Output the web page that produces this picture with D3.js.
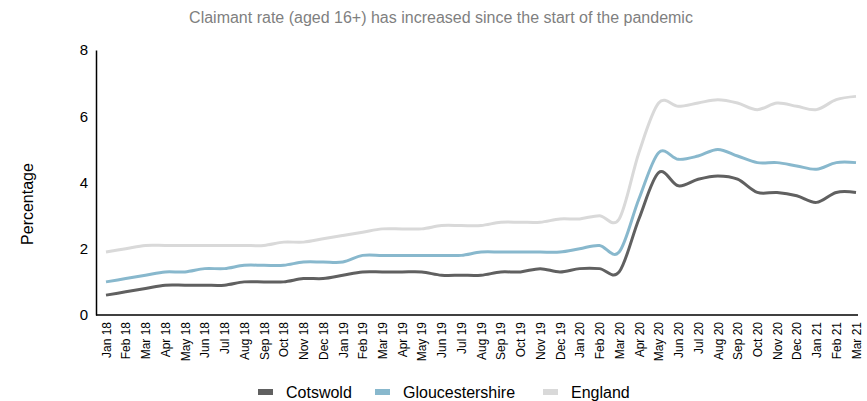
<!DOCTYPE html>
<html>
<head>
<meta charset="utf-8">
<script src="https://cdn.jsdelivr.net/npm/d3@7"></script>
<style>
  body { margin: 0; background: #fff; }
  svg { font-family: "Liberation Sans", Arial, sans-serif; }
</style>
</head>
<body>
<div id="chart"></div>
<script>
// months on the x axis
const months = ["Jan 18","Feb 18","Mar 18","Apr 18","May 18","Jun 18","Jul 18","Aug 18","Sep 18","Oct 18","Nov 18","Dec 18",
  "Jan 19","Feb 19","Mar 19","Apr 19","May 19","Jun 19","Jul 19","Aug 19","Sep 19","Oct 19","Nov 19","Dec 19",
  "Jan 20","Feb 20","Mar 20","Apr 20","May 20","Jun 20","Jul 20","Aug 20","Sep 20","Oct 20","Nov 20","Dec 20",
  "Jan 21","Feb 21","Mar 21"];

const cotswold = [0.6,0.7,0.8,0.9,0.9,0.9,0.9,1.0,1.0,1.0,1.1,1.1,
  1.2,1.3,1.3,1.3,1.3,1.2,1.2,1.2,1.3,1.3,1.4,1.3,
  1.4,1.4,1.3,2.9,4.3,3.9,4.1,4.2,4.1,3.7,3.7,3.6,
  3.4,3.7,3.7];

const gloucestershire = [1.0,1.1,1.2,1.3,1.3,1.4,1.4,1.5,1.5,1.5,1.6,1.6,
  1.6,1.8,1.8,1.8,1.8,1.8,1.8,1.9,1.9,1.9,1.9,1.9,
  2.0,2.1,1.9,3.5,4.9,4.7,4.8,5.0,4.8,4.6,4.6,4.5,
  4.4,4.6,4.6];

const england = [1.9,2.0,2.1,2.1,2.1,2.1,2.1,2.1,2.1,2.2,2.2,2.3,
  2.4,2.5,2.6,2.6,2.6,2.7,2.7,2.7,2.8,2.8,2.8,2.9,
  2.9,3.0,2.9,4.9,6.4,6.3,6.4,6.5,6.4,6.2,6.4,6.3,
  6.2,6.5,6.6];

const seriesNames = ["Cotswold", "Gloucestershire", "England"];
const seriesColors = ["#606060", "#88b8cd", "#d9d9d9"];
const yTicks = [0, 2, 4, 6, 8];

const W = 867, H = 401;

const svg = d3.select("#chart")
  .append("svg")
    .attr("width", W)
    .attr("height", H);

const x = d3.scalePoint()
  .domain(months)
  .range([106, 856]);

const y = d3.scaleLinear()
  .domain([0, 8])
  .range([315, 50]);

// title
svg.append("text")
  .attr("x", 441)
  .attr("y", 23)
  .attr("text-anchor", "middle")
  .style("font-size", "16px")
  .style("fill", "#7f7f7f")
  .text("Claimant rate (aged 16+) has increased since the start of the pandemic");

// y axis
const yAxis = svg.append("g")
  .attr("transform", "translate(96,0)")
  .call(d3.axisLeft(y).tickValues(yTicks).tickSize(0).tickPadding(8).tickFormat(d3.format("d")));
yAxis.select(".domain").attr("stroke", "#000").attr("stroke-width", 1.5);
yAxis.selectAll("text")
  .style("font-size", "15px")
  .style("fill", "#000")
  .style("font-family", "Liberation Sans, Arial, sans-serif");

// x axis
const xAxis = svg.append("g")
  .attr("transform", "translate(0,315)")
  .call(d3.axisBottom(x).tickSize(0));
xAxis.select(".domain")
  .attr("d", "M96,0H858")
  .attr("stroke", "#000")
  .attr("stroke-width", 1.5);
xAxis.selectAll("text")
  .attr("transform", "rotate(-90)")
  .attr("x", -7)
  .attr("y", 0)
  .attr("dy", "0.35em")
  .style("text-anchor", "end")
  .style("font-size", "12px")
  .style("fill", "#000")
  .style("font-family", "Liberation Sans, Arial, sans-serif");

// y axis title
svg.append("text")
  .attr("transform", "translate(33,204) rotate(-90)")
  .attr("text-anchor", "middle")
  .style("font-size", "16px")
  .style("fill", "#000")
  .text("Percentage");

// lines, England drawn first so it sits behind
const allSeries = [cotswold, gloucestershire, england];
const line = d3.line()
  .x((d, i) => x(months[i]))
  .y(d => y(d))
  .curve(d3.curveCardinal.tension(0));

[2, 1, 0].forEach(function(k) {
  svg.append("path")
    .datum(allSeries[k])
    .attr("d", line)
    .attr("fill", "none")
    .attr("stroke", seriesColors[k])
    .attr("stroke-width", 3)
    .attr("stroke-linejoin", "round");
});

// legend
const legendX = [258, 375, 543];
const legend = svg.selectAll("g.legend")
  .data(seriesNames)
  .join("g")
    .attr("class", "legend")
    .attr("transform", (d, i) => `translate(${legendX[i]},392)`);
legend.append("rect")
  .attr("x", 0)
  .attr("y", -3)
  .attr("width", 15)
  .attr("height", 6)
  .style("fill", (d, i) => seriesColors[i]);
legend.append("text")
  .attr("x", 28)
  .attr("y", 0)
  .attr("dy", "0.35em")
  .style("font-size", "16px")
  .style("fill", "#000")
  .text(d => d);
</script>
</body>
</html>
